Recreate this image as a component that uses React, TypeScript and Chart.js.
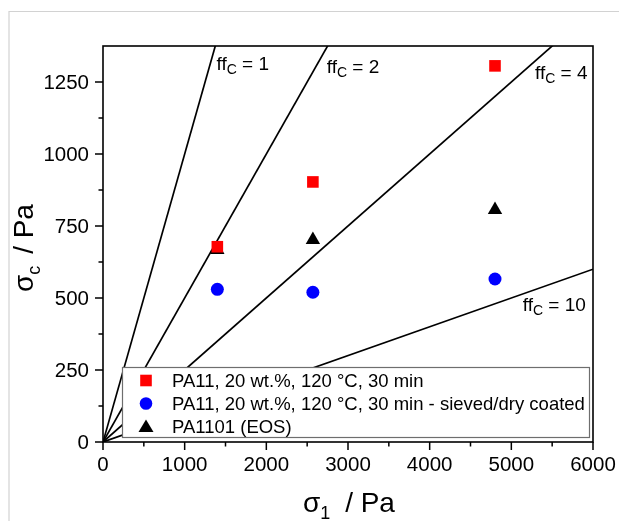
import React, { useEffect, useRef } from 'react';
import { Chart, registerables } from 'chart.js';

Chart.register(...registerables);

// ---- data ----
const flowFactors = [1, 2, 4, 10];
const xMax = 6000;
const yMax = 1375;
const xTicks = [0, 1000, 2000, 3000, 4000, 5000, 6000];
const xMinorTicks = [500, 1500, 2500, 3500, 4500, 5500];
const yTicks = [0, 250, 500, 750, 1000, 1250];
const yMinorTicks = [125, 375, 625, 875, 1125];

const sigma1 = [1400, 2570, 4800];
const sigmaCRed = [678, 903, 1306];
const sigmaCBlue = [530, 520, 566];
const sigmaCBlack = [667, 702, 806];

const seriesLabels = [
  'PA11, 20 wt.%, 120 °C, 30 min',
  'PA11, 20 wt.%, 120 °C, 30 min - sieved/dry coated',
  'PA1101 (EOS)',
];
const seriesColors = ['#ff0000', '#0000ff', '#000000'];
const seriesStyles = ['rect', 'circle', 'triangle'];

// label anchor (data coords) for each ff line label
const ffLabelX = [1390, 2740, 5290, 5140];
const ffLabelY = [1290, 1282, 1262, 455];

const FONT = '"Liberation Sans", Arial, Helvetica, sans-serif';

function drawMarker(ctx: CanvasRenderingContext2D, style: string, x: number, y: number, color: string) {
  ctx.save();
  ctx.fillStyle = color;
  ctx.beginPath();
  if (style === 'rect') {
    ctx.rect(x - 5.8, y - 5.8, 11.6, 11.6);
  } else if (style === 'circle') {
    ctx.arc(x, y, 6.3, 0, Math.PI * 2);
  } else {
    ctx.moveTo(x, y - 7);
    ctx.lineTo(x + 7.5, y + 5.5);
    ctx.lineTo(x - 7.5, y + 5.5);
    ctx.closePath();
  }
  ctx.fill();
  ctx.restore();
}

// draws text made of parts; returns width
function drawParts(
  ctx: CanvasRenderingContext2D,
  parts: { t?: string; sub?: boolean; gap?: number }[],
  x: number,
  y: number,
  size: number,
  subSize: number,
  subShift: number,
  draw = true
) {
  let cx = x;
  for (const p of parts) {
    if (p.gap) { cx += p.gap; continue; }
    const t = p.t || '';
    ctx.font = `${p.sub ? subSize : size}px ${FONT}`;
    if (draw) ctx.fillText(t, cx, p.sub ? y + subShift : y);
    cx += ctx.measureText(t).width;
  }
  return cx - x;
}

const overlayPlugin = {
  id: 'overlay',
  beforeDraw(chart: any) {
    const ctx = chart.ctx as CanvasRenderingContext2D;
    ctx.save();
    ctx.fillStyle = '#ffffff';
    ctx.fillRect(0, 0, chart.width, chart.height);
    ctx.strokeStyle = '#d2d2d2';
    ctx.lineWidth = 1.2;
    ctx.beginPath();
    ctx.moveTo(9, chart.height);
    ctx.lineTo(9, 11.5);
    ctx.lineTo(chart.width, 11.5);
    ctx.stroke();
    ctx.restore();
  },
  afterDatasetsDraw(chart: any) {
    const ctx = chart.ctx as CanvasRenderingContext2D;
    const ca = chart.chartArea;
    const xs = chart.scales.x;
    const ys = chart.scales.y;
    ctx.save();

    // ff labels
    ctx.fillStyle = '#000';
    ctx.textBaseline = 'alphabetic';
    ctx.textAlign = 'left';
    flowFactors.forEach((ff, i) => {
      const px = xs.getPixelForValue(ffLabelX[i]);
      const py = ys.getPixelForValue(ffLabelY[i]);
      drawParts(ctx, [{ t: 'ff' }, { t: 'C', sub: true }, { t: ' = ' + ff }], px, py, 19, 14, 4);
    });

    // legend
    const lx0 = ca.left + 19;
    const lx1 = ca.right - 3;
    const ly1 = ca.bottom - 4;
    const ly0 = ly1 - 71;
    ctx.fillStyle = '#ffffff';
    ctx.fillRect(lx0, ly0, lx1 - lx0, ly1 - ly0);
    ctx.strokeStyle = '#6e6e6e';
    ctx.lineWidth = 1.2;
    ctx.strokeRect(lx0 + 0.5, ly0 + 0.5, lx1 - lx0 - 1, ly1 - ly0 - 1);
    ctx.font = `18.5px ${FONT}`;
    ctx.textBaseline = 'middle';
    seriesLabels.forEach((lab, i) => {
      const yy = ly0 + 13.5 + i * 23;
      drawMarker(ctx, seriesStyles[i], lx0 + 24, yy, seriesColors[i]);
      ctx.fillStyle = '#000';
      ctx.fillText(lab, lx0 + 50, yy + 1);
    });

    // frame
    ctx.strokeStyle = '#000';
    ctx.lineWidth = 1.6;
    ctx.strokeRect(ca.left, ca.top, ca.right - ca.left, ca.bottom - ca.top);

    // ticks
    ctx.lineWidth = 1.5;
    ctx.beginPath();
    xTicks.forEach((v) => {
      const p = xs.getPixelForValue(v);
      ctx.moveTo(p, ca.bottom);
      ctx.lineTo(p, ca.bottom + 8);
    });
    xMinorTicks.forEach((v) => {
      const p = xs.getPixelForValue(v);
      ctx.moveTo(p, ca.bottom);
      ctx.lineTo(p, ca.bottom + 4.5);
    });
    yTicks.forEach((v) => {
      const p = ys.getPixelForValue(v);
      ctx.moveTo(ca.left, p);
      ctx.lineTo(ca.left - 8, p);
    });
    yMinorTicks.forEach((v) => {
      const p = ys.getPixelForValue(v);
      ctx.moveTo(ca.left, p);
      ctx.lineTo(ca.left - 4.5, p);
    });
    ctx.stroke();

    // tick labels
    ctx.fillStyle = '#000';
    ctx.font = `20.5px ${FONT}`;
    ctx.textBaseline = 'middle';
    ctx.textAlign = 'center';
    xTicks.forEach((v) => {
      ctx.fillText(String(v), xs.getPixelForValue(v), ca.bottom + 23);
    });
    ctx.textAlign = 'right';
    yTicks.forEach((v) => {
      ctx.fillText(String(v), ca.left - 14, ys.getPixelForValue(v) + 1);
    });

    // axis titles
    ctx.textAlign = 'left';
    ctx.textBaseline = 'alphabetic';
    const xParts = [{ t: 'σ' }, { t: '1', sub: true }, { gap: 7 }, { t: ' / Pa' }];
    const wx = drawParts(ctx, xParts, 0, 0, 28, 18, 7, false);
    drawParts(ctx, xParts, (ca.left + ca.right) / 2 - wx / 2 + 1, 512, 28, 18, 7);

    const yParts = [{ t: 'σ' }, { t: 'c', sub: true }, { gap: 4 }, { t: ' / Pa' }];
    const wy = drawParts(ctx, yParts, 0, 0, 28, 18, 7, false);
    ctx.translate(33, (ca.top + ca.bottom) / 2 + 4);
    ctx.rotate(-Math.PI / 2);
    drawParts(ctx, yParts, -wy / 2, 0, 28, 18, 7);

    ctx.restore();
  },
};

export default function App() {
  const ref = useRef<HTMLCanvasElement | null>(null);
  useEffect(() => {
    if (!ref.current) return;
    const lineSets = flowFactors.map((ff) => ({
      type: 'line' as const,
      label: 'ffc = ' + ff,
      data: [
        { x: 0, y: 0 },
        { x: xMax, y: xMax / ff },
      ],
      borderColor: '#000',
      borderWidth: 1.7,
      pointRadius: 0,
      showLine: true,
      fill: false,
      order: 5,
    }));
    const pointSets = seriesLabels.map((lab, i) => {
      const vals = [sigmaCRed, sigmaCBlue, sigmaCBlack][i];
      return {
        type: 'scatter' as const,
        label: lab,
        data: sigma1.map((x, j) => ({ x, y: vals[j] })),
        pointStyle: seriesStyles[i],
        pointRadius: [8.2, 6.5, 8.3][i],
        backgroundColor: seriesColors[i],
        borderColor: seriesColors[i],
        borderWidth: 0,
        order: 1,
      };
    });
    const chart = new Chart(ref.current, {
      type: 'scatter',
      data: { datasets: [...lineSets, ...pointSets] as any },
      options: {
        animation: false,
        responsive: false,
        devicePixelRatio: 1,
        layout: { padding: { left: 0, right: 26, top: 46, bottom: 0 } },
        plugins: { legend: { display: false }, tooltip: { enabled: false } },
        scales: {
          x: {
            type: 'linear',
            min: 0,
            max: xMax,
            afterBuildTicks: (s: any) => {
              s.ticks = xTicks.map((v) => ({ value: v }));
            },
            afterFit: (s: any) => {
              s.height = 79;
            },
            grid: { display: false, drawTicks: false },
            border: { display: false },
            ticks: { display: false },
          },
          y: {
            type: 'linear',
            min: 0,
            max: yMax,
            afterBuildTicks: (s: any) => {
              s.ticks = yTicks.map((v) => ({ value: v }));
            },
            afterFit: (s: any) => {
              s.width = 103;
            },
            grid: { display: false, drawTicks: false },
            border: { display: false },
            ticks: { display: false },
          },
        },
      },
      plugins: [overlayPlugin],
    });
    return () => chart.destroy();
  }, []);
  return (
    <div style={{ position: 'fixed', left: 0, top: 0, width: 619, height: 521, background: '#fff' }}>
      <canvas ref={ref} width={619} height={521} style={{ display: 'block', width: 619, height: 521 }} />
    </div>
  );
}
